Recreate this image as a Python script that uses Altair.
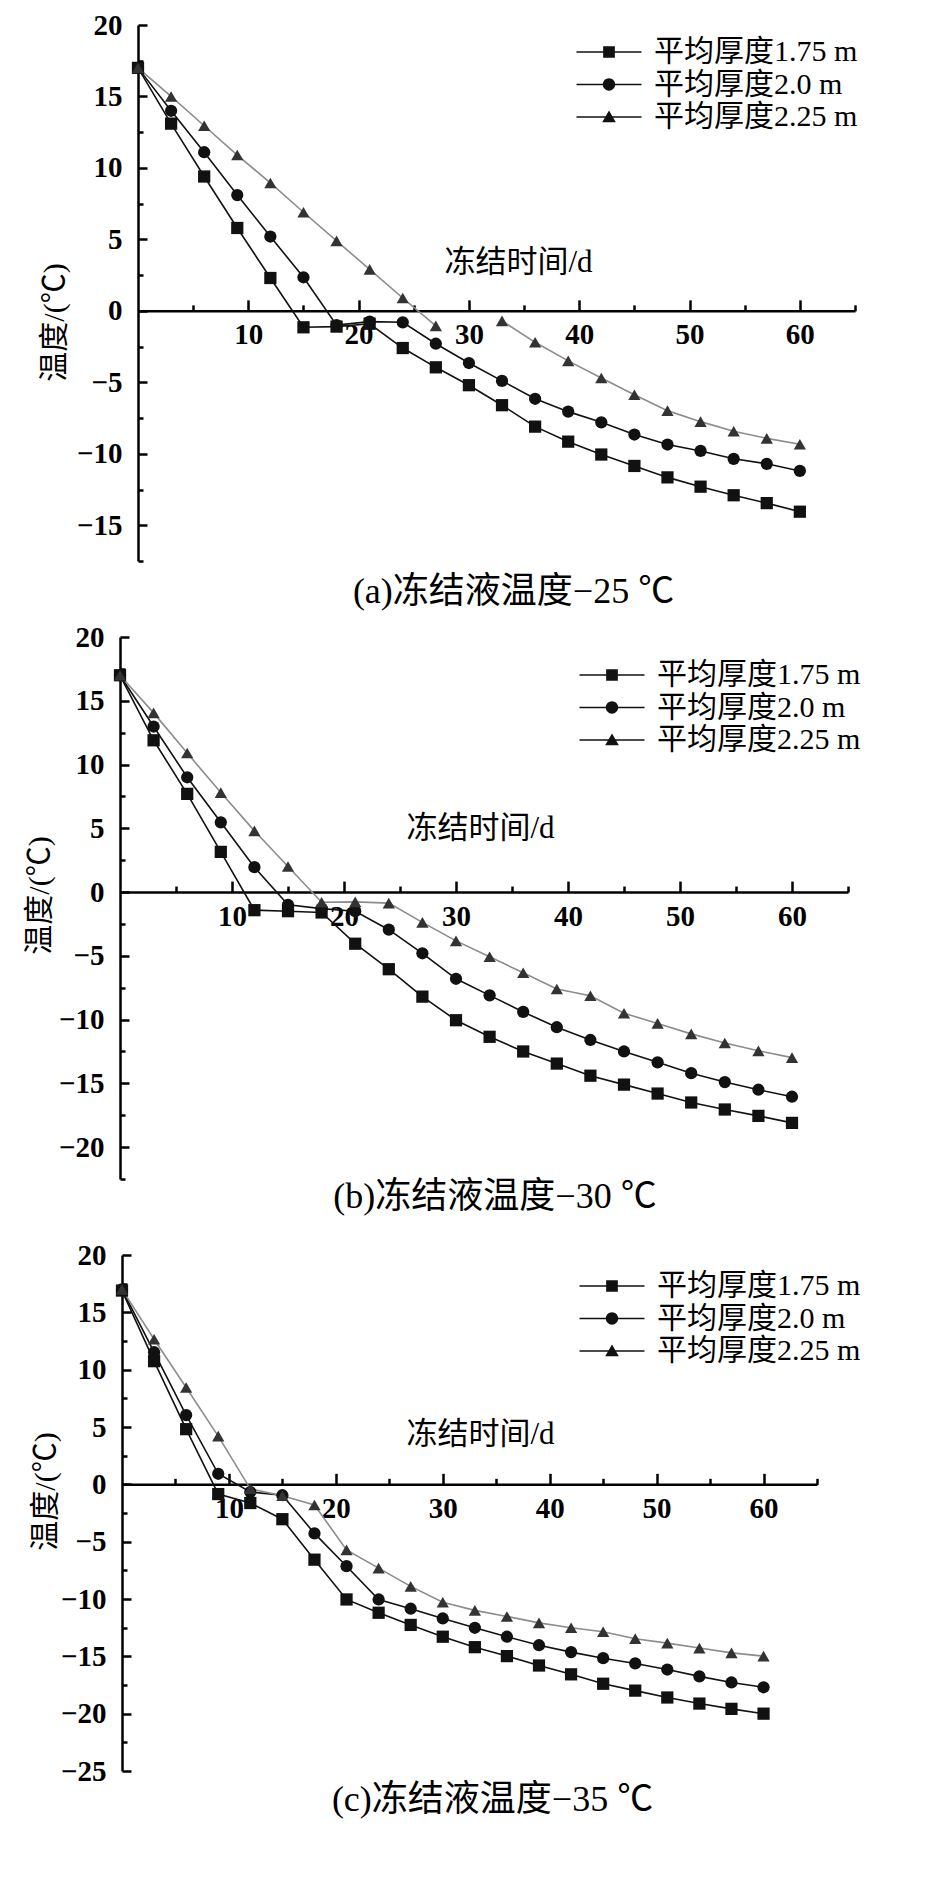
import altair as alt
import pandas as pd

DAYS = [0, 3, 6, 9, 12, 15, 18, 21, 24, 27, 30, 33, 36, 39, 42, 45, 48, 51, 54, 57, 60]
SERIES = ["平均厚度1.75 m", "平均厚度2.0 m", "平均厚度2.25 m"]

# (a) 冻结液温度 -25 ℃
A_175 = [17.0, 13.1, 9.4, 5.8, 2.3, -1.15, -1.1, -0.9, -2.6, -3.95, -5.2, -6.6, -8.1, -9.15, -10.05, -10.85, -11.65, -12.3, -12.9, -13.45, -14.05]
A_200 = [17.0, 14.0, 11.1, 8.1, 5.2, 2.35, -1.0, -0.75, -0.8, -2.3, -3.65, -4.9, -6.15, -7.05, -7.8, -8.65, -9.35, -9.8, -10.35, -10.7, -11.2]
A_225 = [17.0, 15.0, 12.95, 10.9, 8.95, 6.9, 4.9, 2.9, 0.9, -1.05, None, -0.7, -2.2, -3.5, -4.7, -5.87, -6.98, -7.75, -8.42, -8.92, -9.33]

# (b) 冻结液温度 -30 ℃
B_175 = [17.0, 11.9, 7.7, 3.15, -1.42, -1.5, -1.6, -4.05, -6.05, -8.2, -10.05, -11.35, -12.5, -13.45, -14.4, -15.1, -15.8, -16.5, -17.05, -17.55, -18.1]
B_200 = [17.0, 12.98, 9.0, 5.47, 1.95, -1.0, -1.3, -1.5, -2.95, -4.8, -6.8, -8.1, -9.4, -10.6, -11.6, -12.5, -13.35, -14.2, -14.9, -15.5, -16.05]
B_225 = [17.0, 14.05, 10.9, 7.8, 4.8, 2.0, -0.8, -0.77, -0.87, -2.38, -3.83, -5.07, -6.33, -7.6, -8.13, -9.5, -10.3, -11.12, -11.84, -12.45, -12.98]

# (c) 冻结液温度 -35 ℃
C_175 = [16.9, 10.74, 4.81, -0.85, -1.63, -3.04, -6.57, -10.04, -11.2, -12.26, -13.29, -14.2, -14.98, -15.8, -16.57, -17.39, -17.99, -18.59, -19.12, -19.58, -20.0]
C_200 = [17.0, 11.52, 6.04, 0.92, -0.67, -0.95, -4.28, -7.14, -10.04, -10.85, -11.7, -12.51, -13.29, -14.03, -14.63, -15.16, -15.62, -16.15, -16.75, -17.28, -17.7]
C_225 = [17.0, 12.65, 8.45, 4.2, -0.39, -1.0, -1.8, -5.72, -7.31, -8.9, -10.28, -10.99, -11.52, -12.08, -12.51, -12.86, -13.46, -13.85, -14.28, -14.7, -14.98]

X_LABELS = [10, 20, 30, 40, 50, 60]
X_MINOR = [5, 15, 25, 35, 45, 55, 65]
Y_LABELS_A = [-15, -10, -5, 0, 5, 10, 15, 20]
Y_MINOR_A = [-17.5, -12.5, -7.5, -2.5, 2.5, 7.5, 12.5, 17.5]
Y_LABELS_B = [-20, -15, -10, -5, 0, 5, 10, 15, 20]
Y_MINOR_B = [-22.5, -17.5, -12.5, -7.5, -2.5, 2.5, 7.5, 12.5, 17.5]
Y_LABELS_C = [-25, -20, -15, -10, -5, 0, 5, 10, 15, 20]
Y_MINOR_C = [-22.5, -17.5, -12.5, -7.5, -2.5, 2.5, 7.5, 12.5, 17.5]

CAPTIONS = ["(a)冻结液温度−25 ℃", "(b)冻结液温度−30 ℃", "(c)冻结液温度−35 ℃"]
X_TITLE = "冻结时间/d"
Y_TITLE = "温度/(℃)"

LINE_COLORS = ["#111111", "#111111", "#8c8c8c"]
MARK_COLORS = ["#111111", "#111111", "#333333"]
MARK_SHAPES = ["square", "circle", "triangle-up"]
# legend keys: a thin bar (the line) with the marker in the middle, all filled
LEGEND_SHAPES = [
    "M-5,-0.12L5,-0.12L5,0.12L-5,0.12Z M-0.9,-0.9L0.9,-0.9L0.9,0.9L-0.9,0.9Z",
    "M-5,-0.12L5,-0.12L5,0.12L-5,0.12Z M0.95,0A0.95,0.95,0,1,1,-0.95,0A0.95,0.95,0,1,1,0.95,0Z",
    "M-5,-0.12L5,-0.12L5,0.12L-5,0.12Z M0,-1L1.05,0.8L-1.05,0.8Z",
]

FONT = "Liberation Serif, Noto Sans CJK SC"


def frame(series_values):
    rows = []
    for name, vals in zip(SERIES, series_values):
        for d, v in zip(DAYS, vals):
            rows.append({"t": d, "T": v, "series": name})
    return pd.DataFrame(rows)


def panel(df, cfg, caption):
    W, H, r0, ymin = cfg["W"], cfg["H"], cfg["r0"], cfg["ymin"]
    py0 = H * 20 / (20 - ymin)
    xs = alt.Scale(domain=[0, 65], range=[r0, W], nice=False, zero=False)
    ys = alt.Scale(domain=[ymin, 20], nice=False, zero=False)
    base = alt.Chart(df)

    line = base.mark_line(strokeWidth=1.6).encode(
        x=alt.X("t:Q", scale=xs, axis=alt.Axis(
            orient="bottom", offset=-(H - py0), values=X_LABELS, ticks=False, grid=False,
            domainColor="black", domainWidth=2.5, labelFont=FONT, labelFontSize=29,
            labelFontWeight="bold", labelColor="black", labelPadding=10, labelOverlap=False,
            labelFlush=False, title=X_TITLE, titleFont=FONT, titleFontSize=31,
            titleFontWeight="normal", titleColor="black", titleX=cfg["xtx"], titleY=cfg["xty"],
            titleAlign="center", titleBaseline="middle")),
        y=alt.Y("T:Q", scale=ys, axis=alt.Axis(
            orient="left", offset=-r0, values=cfg["ylab"], ticks=False, grid=False,
            domainColor="black", domainWidth=2.5, labelFont=FONT, labelFontSize=29,
            labelFontWeight="bold", labelColor="black", labelPadding=16, labelOverlap=False,
            labelFlush=False, title=Y_TITLE, titleFont=FONT, titleFontSize=30,
            titleFontWeight="normal", titleColor="black", titleX=cfg["ytx"], titleY=cfg["yty"],
            titleAngle=270, titleAlign="center", titleBaseline="middle")),
        color=alt.Color("series:N", scale=alt.Scale(domain=SERIES, range=LINE_COLORS), legend=None),
    )

    point_layers = []
    for i, name in enumerate(SERIES):
        if i == 0:
            xax = alt.Axis(orient="top", offset=-py0, values=X_LABELS, tickSize=11, tickWidth=2.5,
                           tickColor="black", labels=False, domain=False, grid=False, title=None)
            yax = alt.Axis(orient="right", offset=-(W - r0), values=cfg["ylab"], tickSize=9,
                           tickWidth=2.5, tickColor="black", labels=False, domain=False,
                           grid=False, title=None)
        else:
            xax = None
            yax = None
        point_layers.append(
            base.transform_filter(alt.datum.series == name).mark_point(
                filled=True, shape=MARK_SHAPES[i], color=MARK_COLORS[i], size=150, opacity=1
            ).encode(
                x=alt.X("t:Q", scale=xs, axis=xax),
                y=alt.Y("T:Q", scale=ys, axis=yax),
            )
        )

    leg = base.transform_filter("datum.t < 0").mark_point(
        filled=True, size=169, opacity=1, color="#111111"
    ).encode(
        x=alt.X("t:Q", scale=xs, axis=alt.Axis(
            orient="top", offset=-py0, values=X_MINOR, tickSize=6, tickWidth=2.5,
            tickColor="black", labels=False, domain=False, grid=False, title=None)),
        y=alt.Y("T:Q", scale=ys, axis=alt.Axis(
            orient="right", offset=-(W - r0), values=cfg["yminor"], tickSize=5, tickWidth=2.5,
            tickColor="black", labels=False, domain=False, grid=False, title=None)),
        shape=alt.Shape("series:N", scale=alt.Scale(domain=SERIES, range=LEGEND_SHAPES),
                        legend=alt.Legend(
                            orient="none", legendX=cfg["lx"], legendY=cfg["ly"], title=None,
                            padding=0, labelFont=FONT, labelFontSize=30, labelColor="black",
                            labelOffset=30, labelLimit=500, rowPadding=2.5, symbolSize=169,
                            symbolFillColor="#111111")),
    )

    return alt.layer(line, *point_layers, leg).resolve_axis(
        x="independent", y="independent"
    ).properties(
        width=W, height=H,
        title=alt.TitleParams(
            text=caption, orient="bottom", anchor="middle", frame="group", font=FONT,
            fontSize=36, fontWeight="normal", color="black", offset=cfg["toff"], dx=cfg["tdx"]),
    )


CFG_A = dict(W=735, H=536, r0=18, ymin=-17.5, ylab=Y_LABELS_A, yminor=Y_MINOR_A,
             xtx=398, xty=-48, ytx=-84, yty=297, lx=474, ly=12, toff=13, tdx=26)
CFG_B = dict(W=728, H=542, r0=0, ymin=-22.5, ylab=Y_LABELS_B, yminor=Y_MINOR_B,
             xtx=360, xty=-64, ytx=-81, yty=258, lx=477, ly=23, toff=0, tdx=11)
CFG_C = dict(W=697, H=516, r0=2, ymin=-25, ylab=Y_LABELS_C, yminor=Y_MINOR_C,
             xtx=360, xty=-50, ytx=-77, yty=236, lx=477, ly=16, toff=-3, tdx=24)

pa = panel(frame([A_175, A_200, A_225]), CFG_A, CAPTIONS[0])
pb = panel(frame([B_175, B_200, B_225]), CFG_B, CAPTIONS[1])
pc = panel(frame([C_175, C_200, C_225]), CFG_C, CAPTIONS[2])

chart = alt.vconcat(pa, pb, pc, spacing=76, bounds="flush").resolve_scale(
    shape="independent"
).properties(
    padding={"left": 16, "top": 3, "right": 5, "bottom": 5}, background="white"
).configure_view(strokeWidth=0)

chart.save("out.html", embed_options={"renderer": "svg", "actions": False})
